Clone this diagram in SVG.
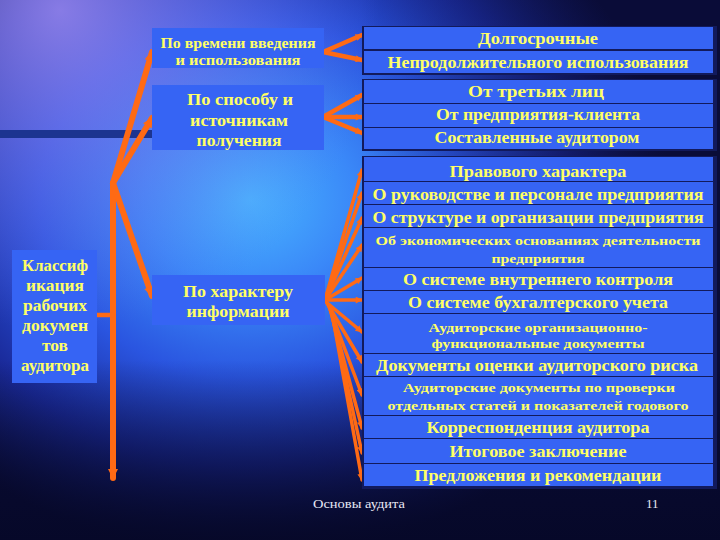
<svg xmlns="http://www.w3.org/2000/svg" width="720" height="540" viewBox="0 0 720 540">
<defs>
<radialGradient id="glow" cx="250" cy="200" r="420" gradientUnits="userSpaceOnUse" gradientTransform="translate(250 200) scale(1 0.85) translate(-250 -200)">
<stop offset="0" stop-color="#48b4ff"/>
<stop offset="0.25" stop-color="#3a88f8"/>
<stop offset="0.5" stop-color="#2a55e0"/>
<stop offset="0.75" stop-color="#1a2a9a"/>
<stop offset="1" stop-color="#0a0c38"/>
</radialGradient>
<radialGradient id="purple" cx="60" cy="10" r="320" gradientUnits="userSpaceOnUse">
<stop offset="0" stop-color="#9a88f0" stop-opacity="0.85"/>
<stop offset="1" stop-color="#7070e8" stop-opacity="0"/>
</radialGradient>
<linearGradient id="bottom" x1="0" y1="360" x2="0" y2="540" gradientUnits="userSpaceOnUse">
<stop offset="0" stop-color="#060828" stop-opacity="0"/>
<stop offset="1" stop-color="#060828" stop-opacity="0.95"/>
</linearGradient>
<linearGradient id="topright" x1="360" y1="0" x2="720" y2="0" gradientUnits="userSpaceOnUse">
<stop offset="0" stop-color="#0a0c38" stop-opacity="0"/>
<stop offset="1" stop-color="#0a0c38" stop-opacity="0.8"/>
</linearGradient>
<marker id="ah" viewBox="0 0 10 10" refX="9" refY="5" markerWidth="14" markerHeight="10" markerUnits="userSpaceOnUse" orient="auto">
<path d="M0,0 L10,5 L0,10 Z" fill="#ff6a14"/>
</marker>
<marker id="ahs" viewBox="0 0 10 10" refX="9" refY="5" markerWidth="10" markerHeight="7" markerUnits="userSpaceOnUse" orient="auto">
<path d="M0,0 L10,5 L0,10 Z" fill="#ff6a14"/>
</marker>
<style>
.box{fill:#3664f4}
.shade{fill:#121a5c}
.t{font-weight:bold;fill:#ffff66;text-anchor:middle}
.f{fill:#e8e8f4;font-size:13px}
.c{stroke:#ff6a14;fill:none;stroke-linecap:round}
.thick{stroke-width:6}
.mid{stroke-width:4.5}
.thin{stroke-width:3.5}
</style>
</defs>

<g id="background">
<rect x="0" y="0" width="720" height="540" fill="#0a0c38"/>
<rect x="0" y="0" width="720" height="540" fill="url(#glow)"/>
<rect x="0" y="0" width="720" height="540" fill="url(#purple)"/>
<rect x="0" y="0" width="720" height="160" fill="url(#topright)"/>
<rect x="0" y="0" width="720" height="540" fill="url(#bottom)"/>
<rect x="0" y="130" width="152" height="8" fill="#1c3490"/>
</g>

<g id="connectors">
<line class="c thick" x1="113" y1="183" x2="113" y2="478" marker-end="url(#ah)"/>
<line class="c mid" x1="97" y1="315" x2="113" y2="315"/>
<line class="c thick" x1="113" y1="183" x2="152" y2="52" marker-end="url(#ah)"/>
<line class="c thick" x1="113" y1="183" x2="152" y2="118" marker-end="url(#ah)"/>
<line class="c thick" x1="113" y1="183" x2="152" y2="296" marker-end="url(#ah)"/>
<line class="c mid" x1="323" y1="52" x2="362" y2="35" marker-end="url(#ahs)"/>
<line class="c mid" x1="323" y1="52" x2="362" y2="60" marker-end="url(#ahs)"/>
<line class="c mid" x1="323" y1="117" x2="362" y2="95" marker-end="url(#ahs)"/>
<line class="c mid" x1="323" y1="117" x2="362" y2="117" marker-end="url(#ahs)"/>
<line class="c mid" x1="323" y1="117" x2="362" y2="133" marker-end="url(#ahs)"/>
<line class="c thin" x1="325" y1="300" x2="362" y2="170" marker-end="url(#ahs)"/>
<line class="c thin" x1="325" y1="300" x2="362" y2="193" marker-end="url(#ahs)"/>
<line class="c thin" x1="325" y1="300" x2="362" y2="218" marker-end="url(#ahs)"/>
<line class="c thin" x1="325" y1="300" x2="362" y2="245" marker-end="url(#ahs)"/>
<line class="c thin" x1="325" y1="300" x2="362" y2="278" marker-end="url(#ahs)"/>
<line class="c thin" x1="325" y1="300" x2="362" y2="300" marker-end="url(#ahs)"/>
<line class="c thin" x1="326" y1="302" x2="362" y2="332" marker-end="url(#ahs)"/>
<line class="c thin" x1="327" y1="303" x2="362" y2="362" marker-end="url(#ahs)"/>
<line class="c thin" x1="328" y1="304" x2="362" y2="395" marker-end="url(#ahs)"/>
<line class="c thin" x1="329" y1="305" x2="362" y2="428" marker-end="url(#ahs)"/>
<line class="c thin" x1="330" y1="306" x2="362" y2="453" marker-end="url(#ahs)"/>
<line class="c thin" x1="331" y1="307" x2="362" y2="480" marker-end="url(#ahs)"/>
</g>

<g font-family="Liberation Serif, Times New Roman, DejaVu Serif, serif">
<g id="root">
<rect class="box" x="12" y="250" width="85" height="133"/>
<text class="t" font-size="16" x="55" y="271" textLength="66" lengthAdjust="spacingAndGlyphs">Классиф</text>
<text class="t" font-size="16" x="55" y="291" textLength="58" lengthAdjust="spacingAndGlyphs">икация</text>
<text class="t" font-size="16" x="55" y="311" textLength="64" lengthAdjust="spacingAndGlyphs">рабочих</text>
<text class="t" font-size="16" x="55" y="331" textLength="66" lengthAdjust="spacingAndGlyphs">докумен</text>
<text class="t" font-size="16" x="55" y="351" textLength="26" lengthAdjust="spacingAndGlyphs">тов</text>
<text class="t" font-size="16" x="55" y="371" textLength="68" lengthAdjust="spacingAndGlyphs">аудитора</text>
</g>

<g id="cat-time">
<rect class="box" x="152" y="28" width="172" height="40"/>
<text class="t" font-size="14" x="238" y="48" textLength="155" lengthAdjust="spacingAndGlyphs">По времени введения</text>
<text class="t" font-size="14" x="238" y="65" textLength="125" lengthAdjust="spacingAndGlyphs">и использования</text>
</g>

<g id="cat-source">
<rect class="box" x="152" y="85" width="172" height="65"/>
<text class="t" font-size="16" x="240" y="105" textLength="106" lengthAdjust="spacingAndGlyphs">По способу и</text>
<text class="t" font-size="16" x="239" y="126" textLength="98" lengthAdjust="spacingAndGlyphs">источникам</text>
<text class="t" font-size="16" x="239" y="146" textLength="85" lengthAdjust="spacingAndGlyphs">получения</text>
</g>

<g id="cat-info">
<rect class="box" x="152" y="275" width="173" height="50"/>
<text class="t" font-size="16" x="238" y="297" textLength="110" lengthAdjust="spacingAndGlyphs">По характеру</text>
<text class="t" font-size="16" x="238" y="317" textLength="103" lengthAdjust="spacingAndGlyphs">информации</text>
</g>

<g id="group-time">
<rect class="shade" x="362" y="26" width="355" height="49"/>
<g id="r-long"><rect class="box" x="364" y="27" width="349" height="22"/>
<text class="t" font-size="16" x="538" y="44" textLength="120" lengthAdjust="spacingAndGlyphs">Долгосрочные</text></g>
<g id="r-short"><rect class="box" x="364" y="51" width="349" height="22"/>
<text class="t" font-size="16" x="538" y="68" textLength="301" lengthAdjust="spacingAndGlyphs">Непродолжительного использования</text></g>
</g>

<g id="group-source">
<rect class="shade" x="362" y="79" width="355" height="72"/>
<g id="r-third"><rect class="box" x="364" y="80" width="349" height="23"/>
<text class="t" font-size="16" x="536" y="97" textLength="136" lengthAdjust="spacingAndGlyphs">От третьих лиц</text></g>
<g id="r-client"><rect class="box" x="364" y="104" width="349" height="23"/>
<text class="t" font-size="16" x="538" y="120" textLength="204" lengthAdjust="spacingAndGlyphs">От предприятия-клиента</text></g>
<g id="r-auditor"><rect class="box" x="364" y="128" width="349" height="21"/>
<text class="t" font-size="16" x="537" y="143" textLength="205" lengthAdjust="spacingAndGlyphs">Составленные аудитором</text></g>
</g>

<g id="group-info">
<rect class="shade" x="362" y="156" width="355" height="333"/>
<g id="r-legal"><rect class="box" x="364" y="157" width="349" height="24"/>
<text class="t" font-size="16" x="538" y="177" textLength="177" lengthAdjust="spacingAndGlyphs">Правового характера</text></g>
<g id="r-mgmt"><rect class="box" x="364" y="182" width="349" height="22"/>
<text class="t" font-size="16" x="538" y="200" textLength="331" lengthAdjust="spacingAndGlyphs">О руководстве и персонале предприятия</text></g>
<g id="r-struct"><rect class="box" x="364" y="205" width="349" height="22"/>
<text class="t" font-size="16" x="538" y="223" textLength="331" lengthAdjust="spacingAndGlyphs">О структуре и организации предприятия</text></g>
<g id="r-econ"><rect class="box" x="364" y="228" width="349" height="39"/>
<text class="t" font-size="13.5" x="538" y="245" textLength="325" lengthAdjust="spacingAndGlyphs">Об экономических основаниях деятельности</text>
<text class="t" font-size="13.5" x="538" y="263" textLength="93" lengthAdjust="spacingAndGlyphs">предприятия</text></g>
<g id="r-control"><rect class="box" x="364" y="268" width="349" height="22"/>
<text class="t" font-size="16" x="538" y="285" textLength="270" lengthAdjust="spacingAndGlyphs">О системе внутреннего контроля</text></g>
<g id="r-accounting"><rect class="box" x="364" y="291" width="349" height="22"/>
<text class="t" font-size="16" x="538" y="308" textLength="260" lengthAdjust="spacingAndGlyphs">О системе бухгалтерского учета</text></g>
<g id="r-orgfunc"><rect class="box" x="364" y="314" width="349" height="39"/>
<text class="t" font-size="13.5" x="538" y="332" textLength="219" lengthAdjust="spacingAndGlyphs">Аудиторские организационно-</text>
<text class="t" font-size="13.5" x="538" y="348" textLength="213" lengthAdjust="spacingAndGlyphs">функциональные документы</text></g>
<g id="r-risk"><rect class="box" x="364" y="354" width="349" height="22"/>
<text class="t" font-size="16" x="537" y="371" textLength="322" lengthAdjust="spacingAndGlyphs">Документы оценки аудиторского риска</text></g>
<g id="r-check"><rect class="box" x="364" y="377" width="349" height="38"/>
<text class="t" font-size="13.5" x="539" y="392" textLength="272" lengthAdjust="spacingAndGlyphs">Аудиторские документы по проверки</text>
<text class="t" font-size="13.5" x="538" y="410" textLength="301" lengthAdjust="spacingAndGlyphs">отдельных статей и показателей годового</text></g>
<g id="r-corr"><rect class="box" x="364" y="416" width="349" height="22"/>
<text class="t" font-size="16" x="538" y="433" textLength="223" lengthAdjust="spacingAndGlyphs">Корреспонденция аудитора</text></g>
<g id="r-final"><rect class="box" x="364" y="439" width="349" height="24"/>
<text class="t" font-size="16" x="538" y="457" textLength="177" lengthAdjust="spacingAndGlyphs">Итоговое заключение</text></g>
<g id="r-recs"><rect class="box" x="364" y="464" width="349" height="22"/>
<text class="t" font-size="16" x="538" y="481" textLength="247" lengthAdjust="spacingAndGlyphs">Предложения и рекомендации</text></g>
</g>

<g id="footer">
<text class="f" x="313" y="508" textLength="92" lengthAdjust="spacingAndGlyphs">Основы аудита</text>
<text class="f" x="646" y="508">11</text>
</g>
</g>
</svg>
